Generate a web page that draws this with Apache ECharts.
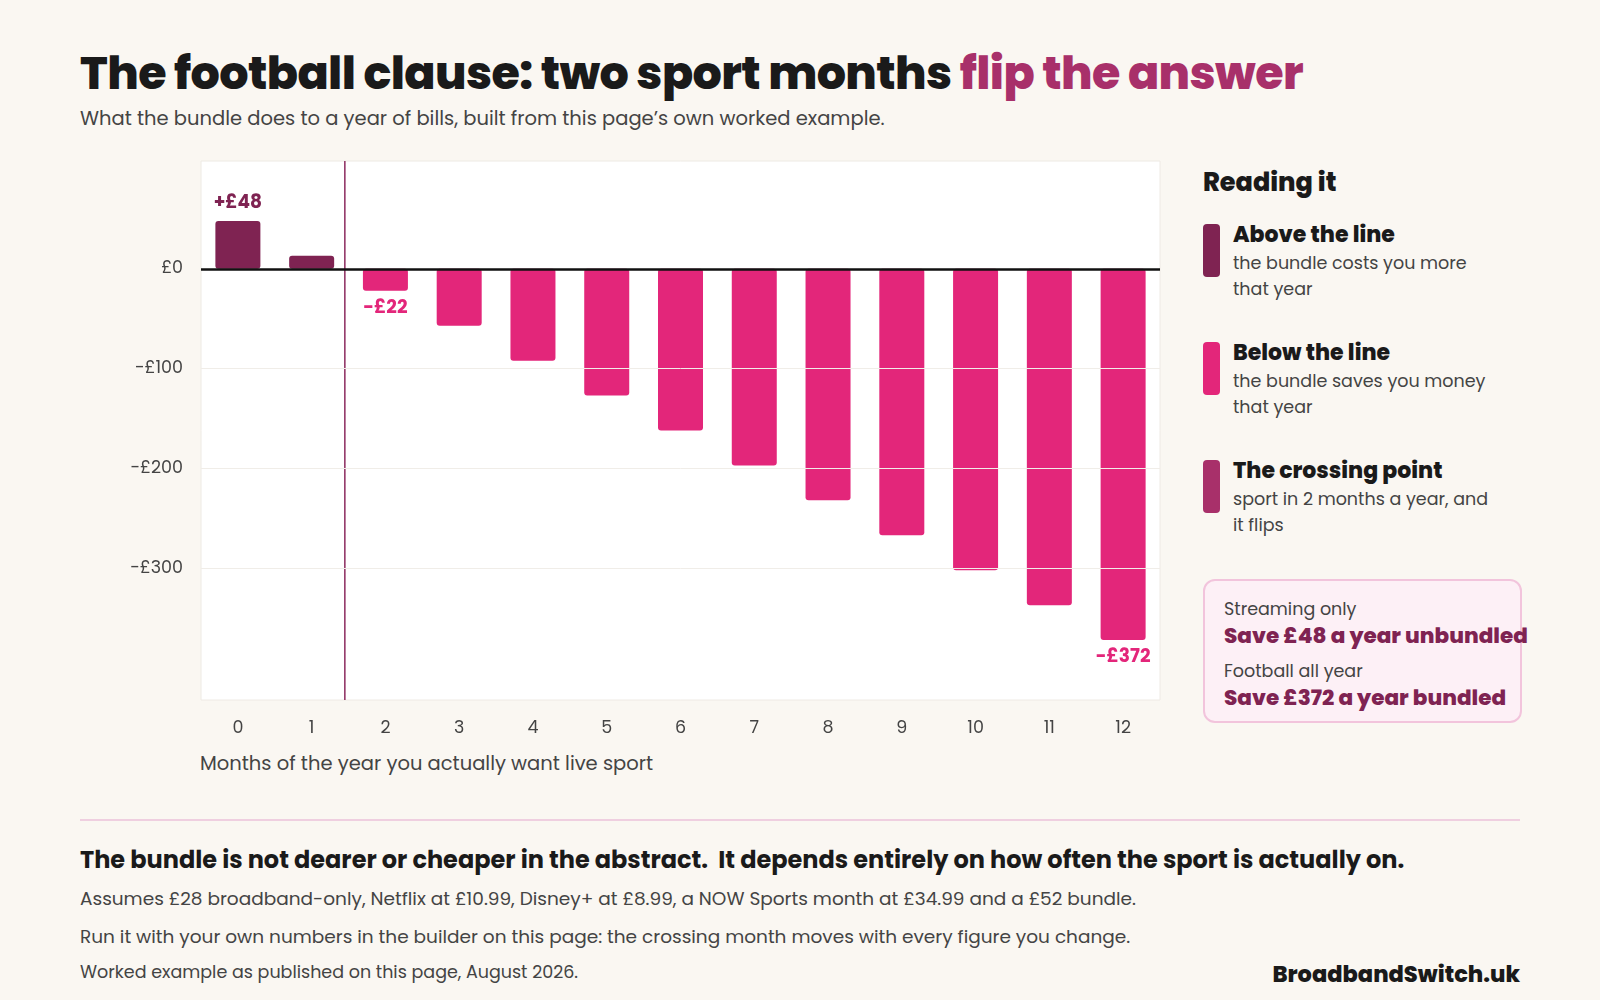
<!DOCTYPE html>
<html><head><meta charset="utf-8">
<script src="https://cdn.jsdelivr.net/npm/echarts@6/dist/echarts.min.js"></script>
<style>
body{margin:0;background:#faf7f2;font-family:Poppins,"Open Sans",sans-serif;color:#1a1a1a}
#wrap{position:relative;width:1600px;height:1000px}
h1{position:absolute;left:80px;top:41px;margin:0;font-size:46px;line-height:64px;font-weight:800;letter-spacing:-0.6px}
h1 span{color:#a8306a}
.sub{position:absolute;left:80px;top:104px;font-size:19.5px;color:#444}
#chart{position:absolute;left:0;top:140px;width:1180px;height:600px}
.xname{position:absolute;left:200px;top:749px;font-size:19.5px;color:#444}
.side{position:absolute;left:1203px;top:164px;width:300px}
.side h3{margin:0 0 20px;font-size:25.5px;line-height:36px;font-weight:800}
.item{position:relative;padding-left:30px;height:118px}
.item i{position:absolute;left:0;top:4px;width:17px;height:53px;border-radius:4px}
.item b{font-size:22px;line-height:30px;font-weight:800;display:block}
.item div{font-size:17.5px;color:#444;line-height:26px}
.box{position:absolute;left:1203px;top:579px;width:296px;height:124px;padding:16px 0 0 19px;border:2px solid #f2c4dc;border-radius:12px;background:#fdf0f6}
.box div{font-size:17.5px;color:#444;line-height:24px}.box b{display:block;font-size:21.5px;line-height:30px;color:#7f2352;margin-bottom:8px;font-weight:800;white-space:nowrap}
hr{position:absolute;left:80px;top:819px;width:1440px;border:0;border-top:2px solid #efcfe0;margin:0}
.f1{position:absolute;left:80px;top:842px;font-size:24px;font-weight:700}
.f2{position:absolute;left:80px;top:885px;font-size:18.5px;color:#444}
.f3{position:absolute;left:80px;top:923px;font-size:18.5px;color:#444}
.f4{position:absolute;left:80px;top:959px;font-size:17.5px;color:#444}
.brand{position:absolute;right:80px;top:957px;font-size:22.5px;font-weight:800}
</style></head><body><div id="wrap">
<h1>The football clause: two sport months <span>flip the answer</span></h1>
<div class="sub">What the bundle does to a year of bills, built from this page’s own worked example.</div>
<div id="chart"></div>
<div class="xname">Months of the year you actually want live sport</div>
<div class="side"><h3>Reading it</h3>
<div class="item"><i style="background:#7f2352"></i><b>Above the line</b><div>the bundle costs you more that year</div></div>
<div class="item"><i style="background:#e3267a"></i><b>Below the line</b><div>the bundle saves you money that year</div></div>
<div class="item"><i style="background:#a8306a"></i><b>The crossing point</b><div>sport in 2 months a year, and it flips</div></div>
</div>
<div class="box"><div>Streaming only</div><b>Save £48 a year unbundled</b><div>Football all year</div><b>Save £372 a year bundled</b></div>
<hr>
<div class="f1">The bundle is not dearer or cheaper in the abstract.&nbsp; It depends entirely on how often the sport is actually on.</div>
<div class="f2">Assumes £28 broadband-only, Netflix at £10.99, Disney+ at £8.99, a NOW Sports month at £34.99 and a £52 bundle.</div>
<div class="f3">Run it with your own numbers in the builder on this page: the crossing month moves with every figure you change.</div>
<div class="f4">Worked example as published on this page, August 2026.</div>
<div class="brand">BroadbandSwitch.uk</div>
</div>
<script>
var months = ['0','1','2','3','4','5','6','7','8','9','10','11','12'];
var diff = [48, 13, -22, -57, -92, -127, -162, -197, -232, -267, -302, -337, -372];
var gridVals = [-100, -200, -300];
var crossing = 1.45;
var labelled = {0: '+£48', 2: '-£22', 12: '-£372'};

var chart = echarts.init(document.getElementById('chart'));
var font = 'Poppins, "Open Sans", sans-serif';
chart.setOption({
  animation: false,
  grid: {left: 201, top: 21, width: 959, height: 539, backgroundColor: '#fff', show: true, borderColor: '#eeeae4'},
  xAxis: [{
    type: 'category', data: months,
    axisLine: {show: false}, axisTick: {show: false},
    axisLabel: {margin: 20, fontSize: 17.5, color: '#444', fontFamily: font}
  }, {
    type: 'value', min: -0.5, max: 12.5, show: false
  }],
  yAxis: {
    type: 'value', min: -432, max: 108, interval: 2,
    splitLine: {show: false}, axisLine: {show: false}, axisTick: {show: false},
    axisLabel: {fontSize: 17.5, color: '#444', margin: 18, fontFamily: font,
      formatter: function (v) {
        if (v % 100 !== 0 || v > 0 || v < -300) return '';
        return v === 0 ? '£0' : '-£' + Math.abs(v);
      }}
  },
  series: [{
    type: 'bar', barWidth: 45,
    data: diff.map(function (v, i) {
      var c = v > 0 ? '#7f2352' : '#e3267a';
      var d = {value: v, itemStyle: {color: c, borderRadius: 3}};
      if (labelled[i]) d.label = {show: true, position: v > 0 ? 'top' : 'bottom', formatter: labelled[i],
        color: c, fontWeight: 'bold', fontSize: 18.5, fontFamily: font, distance: 8};
      return d;
    }),
    markLine: {
      silent: true, symbol: 'none', label: {show: false},
      data: gridVals.map(function (g) { return {yAxis: g, lineStyle: {color: '#f0ede8', width: 1, type: 'solid'}}; })
        .concat([{yAxis: 0, lineStyle: {color: '#111', width: 2.5, type: 'solid'}}])
    }
  }, {
    type: 'line', xAxisIndex: 1, symbol: 'none',
    data: [[crossing, 108], [crossing, -432]],
    lineStyle: {color: '#8b2a5e', width: 1.5}
  }]
});
</script></body></html>
